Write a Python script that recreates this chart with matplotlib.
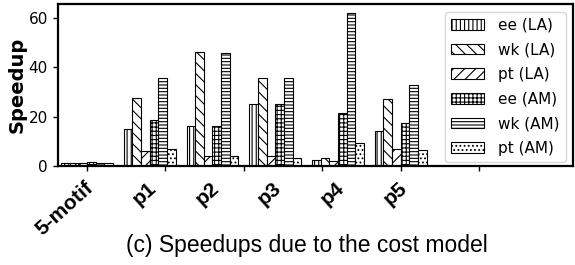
import numpy as np
import matplotlib
matplotlib.use("Agg")
import matplotlib.pyplot as plt

# values
benchmarks = ["5-motif", "p1", "p2", "p3", "p4", "p5"]
ee_la = [1.1, 15.1, 16.2, 25.0, 2.4, 14.2]
wk_la = [1.1, 27.6, 46.2, 35.5, 3.2, 27.2]
pt_la = [1.0, 6.2, 3.9, 3.9, 2.0, 6.9]
ee_am = [1.5, 18.8, 16.3, 25.0, 21.5, 17.4]
wk_am = [1.1, 35.7, 45.9, 35.5, 61.9, 32.7]
pt_am = [1.3, 7.0, 4.0, 3.1, 9.4, 6.6]

series = [ee_la, wk_la, pt_la, ee_am, wk_am, pt_am]
names = ["ee (LA)", "wk (LA)", "pt (LA)", "ee (AM)", "wk (AM)", "pt (AM)"]
hatches = ["||||", "\\\\\\", "///", "++++", "-----", "...."]

plt.rcParams["hatch.linewidth"] = 0.8

fig = plt.figure(figsize=(5.75, 2.65), dpi=100)
ax = fig.add_axes([0.1, 0.374, 0.897, 0.611])

g = np.arange(len(benchmarks))
w = 0.138
for k, (vals, name, h) in enumerate(zip(series, names, hatches)):
    ax.bar(g + (k - 2.5) * w, vals, w, color="white", edgecolor="black",
           linewidth=0.8, hatch=h, label=name)

ax.set_xlim(-0.47, 7.75)
ax.set_ylim(0, 65.7)
ax.set_yticks([0, 20, 40, 60])
ax.tick_params(axis="y", labelsize=11, width=1, length=3.5)

# tick marks where the locator put them, labels under the groups
ax.set_xticks(np.arange(6) * 1.25)
ax.set_xticklabels([])
ax.tick_params(axis="x", which="major", length=3.5, width=1)
ax.set_xticks(g + 0.16, benchmarks, minor=True)
ax.tick_params(axis="x", which="minor", length=0, pad=9)
for lab in ax.get_xticklabels(minor=True):
    lab.set_rotation(42)
    lab.set_ha("right")
    lab.set_fontfamily("Liberation Sans")
    lab.set_fontweight("bold")
    lab.set_fontsize(15)

for s in ax.spines.values():
    s.set_linewidth(1.6)

ax.set_ylabel("Speedup", fontsize=14, fontweight="bold", labelpad=1)

ax.legend(loc="upper right", fontsize=11, handlelength=2.15,
          handletextpad=0.9, labelspacing=0.63)

fig.text(0.533, 0.075, "(c) Speedups due to the cost model", ha="center",
         va="center", fontsize=16.5, family="Liberation Sans")

fig.savefig("out.png", dpi=100)
